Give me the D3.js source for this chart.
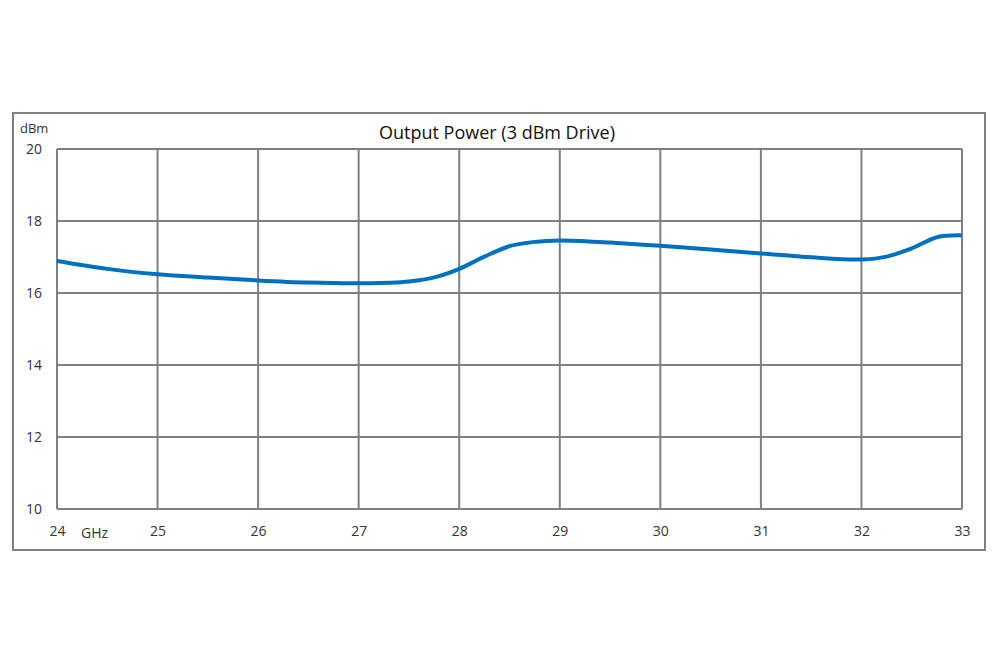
<!DOCTYPE html>
<html>
<head>
<meta charset="utf-8">
<script src="https://cdn.jsdelivr.net/npm/d3@7"></script>
<style>
  body { margin: 0; background: #fff; }
  text { font-family: "Open Sans", "Liberation Sans", sans-serif; }
</style>
</head>
<body>
<div id="chart"></div>
<script>
// frequency (GHz) and output power (dBm)
const freq = [24, 24.5, 25, 25.5, 26, 26.5, 27, 27.5, 27.8, 28, 28.25, 28.5, 28.75, 29, 29.25, 29.5, 30, 30.5, 31, 31.5, 32, 32.25, 32.5, 32.75, 33];
const power = [16.89, 16.67, 16.52, 16.43, 16.35, 16.29, 16.27, 16.32, 16.47, 16.67, 17.01, 17.3, 17.42, 17.46, 17.44, 17.4, 17.31, 17.21, 17.1, 16.99, 16.93, 17.01, 17.24, 17.55, 17.6];
const xTicks = [24, 25, 26, 27, 28, 29, 30, 31, 32, 33];
const yTicks = [10, 12, 14, 16, 18, 20];

const W = 1000, H = 667;
const margin = { top: 149, right: 38, bottom: 158, left: 57 },
    width = W - margin.left - margin.right,
    height = H - margin.top - margin.bottom;

const svg = d3.select("#chart")
    .append("svg")
    .attr("width", W)
    .attr("height", H);

// outer frame
svg.append("rect")
    .attr("x", 13).attr("y", 113)
    .attr("width", 972).attr("height", 437)
    .attr("fill", "none")
    .attr("stroke", "#808080")
    .attr("stroke-width", 2);

const g = svg.append("g")
    .attr("transform", "translate(" + margin.left + "," + margin.top + ")");

var x = d3.scaleLinear().domain([24, 33]).range([0, width]);
var y = d3.scaleLinear().domain([10, 20]).range([height, 0]);

// grid
g.append("g")
    .selectAll("line")
    .data(xTicks)
    .enter()
    .append("line")
    .attr("x1", d => x(d)).attr("x2", d => x(d))
    .attr("y1", 0).attr("y2", height)
    .attr("stroke", "#808080")
    .attr("stroke-width", 2);

g.append("g")
    .selectAll("line")
    .data(yTicks)
    .enter()
    .append("line")
    .attr("x1", 0).attr("x2", width)
    .attr("y1", d => y(d)).attr("y2", d => y(d))
    .attr("stroke", "#808080")
    .attr("stroke-width", 2);

// axes labels
const xAxis = g.append("g")
    .attr("transform", "translate(0," + height + ")")
    .call(d3.axisBottom(x).tickValues(xTicks).tickSize(0).tickPadding(17));
xAxis.select(".domain").remove();
xAxis.selectAll("text")
    .style("font-size", "14px")
    .style("fill", "#333");

const yAxis = g.append("g")
    .call(d3.axisLeft(y).tickValues(yTicks).tickSize(0).tickPadding(15));
yAxis.select(".domain").remove();
yAxis.selectAll("text")
    .style("font-size", "14px")
    .style("fill", "#333");

// units
svg.append("text")
    .attr("x", 20).attr("y", 133)
    .style("font-size", "13px")
    .style("fill", "#333")
    .text("dBm");

svg.append("text")
    .attr("x", 81).attr("y", 538)
    .style("font-size", "14px")
    .style("fill", "#333")
    .text("GHz");

// title
svg.append("text")
    .attr("x", 497).attr("y", 139)
    .attr("text-anchor", "middle")
    .style("font-size", "18px")
    .style("fill", "#111")
    .text("Output Power (3 dBm Drive)");

// curve
const pts = freq.map((f, i) => [f, power[i]]);
g.append("path")
    .datum(pts)
    .attr("fill", "none")
    .attr("stroke", "#0070C0")
    .attr("stroke-width", 4)
    .attr("d", d3.line()
        .x(d => x(d[0]))
        .y(d => y(d[1]))
        .curve(d3.curveCatmullRom.alpha(0.5)));
</script>
</body>
</html>
